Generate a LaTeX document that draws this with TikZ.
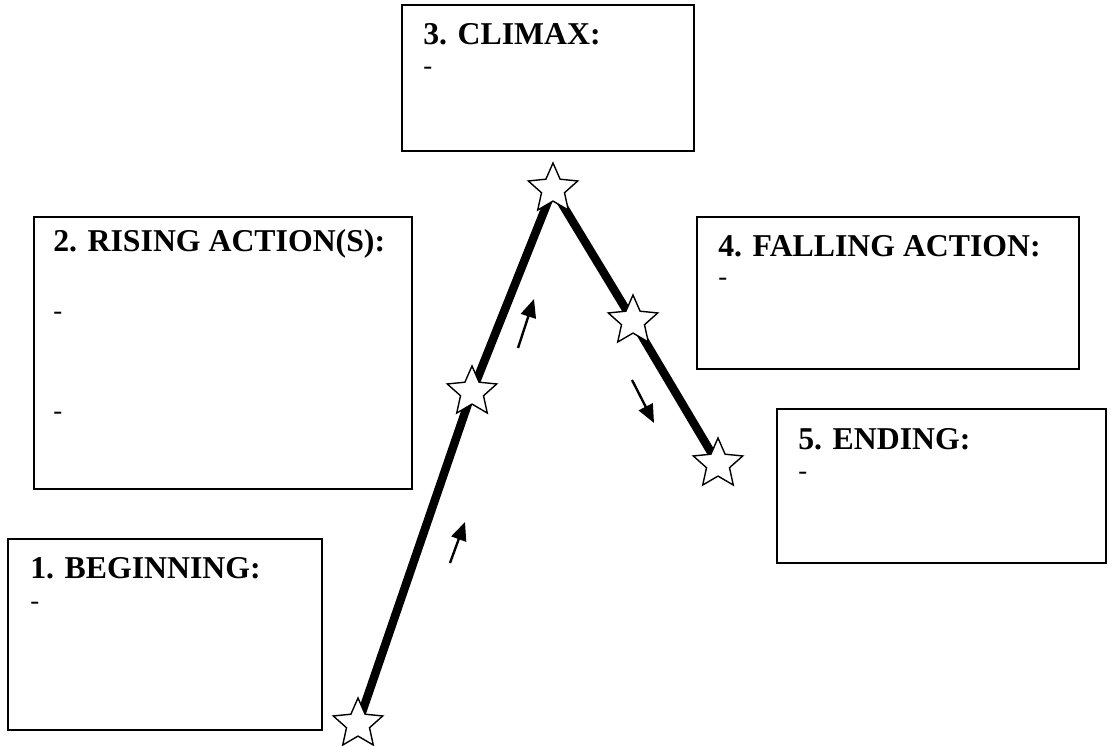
\documentclass[tikz,border=0pt]{standalone}
\usepackage{fontspec}
\setmainfont{Liberation Serif}
\usepackage{tikz}
\usetikzlibrary{shapes.geometric}
\usetikzlibrary{arrows.meta}
\usetikzlibrary{backgrounds}

\begin{document}
\begin{tikzpicture}[mybox/.style={draw, line width=1pt, anchor=north west, inner sep=0pt, outer sep=0pt},
                    mytitle/.style={anchor=base west, inner sep=0pt, font=\fontsize{22.6}{27}\selectfont\bfseries},
                    mydash/.style={anchor=base west, inner sep=0pt, font=\fontsize{19}{21}\selectfont},
                    mystar/.style={star, star points=5, star point ratio=2.15, draw, fill=white, line width=1pt, minimum size=1.3cm, inner sep=0pt},
                    myarrow/.style={-{Triangle[length=13pt,width=11pt]}, line width=1.7pt}]
\useasboundingbox (0,0) rectangle (27.8,18.65);

% The five boxes
\node[mybox,
      minimum width=7.85cm,
      minimum height=4.775cm
     ]
     (beginning) at (0.2,5.175) {};
\node[mybox,
      minimum width=9.45cm,
      minimum height=6.8cm
     ]
     (rising) at (0.85,13.225) {};
\node[mybox,
      minimum width=7.3cm,
      minimum height=3.65cm
     ]
     (climax) at (10.05,18.525) {};
\node[mybox,
      minimum width=9.55cm,
      minimum height=3.8cm
     ]
     (falling) at (17.425,13.225) {};
\node[mybox,
      minimum width=8.225cm,
      minimum height=3.85cm
     ]
     (ending) at (19.425,8.425) {};

% Titles and dashes
\node[mytitle] (beginTitle) at ([shift={(0.55,-1.0)}]beginning.north west) {1. BEGINNING:};
\node[mydash] (beginDash) at ([yshift=-0.76cm]beginTitle.base west) {-};
\node[mytitle] (risingTitle) at ([shift={(0.475,-0.875)}]rising.north west) {2. RISING ACTION(S):};
\node[mydash] (risingDashA) at ([yshift=-1.7cm]risingTitle.base west) {-};
\node[mydash] (risingDashB) at ([yshift=-4.2cm]risingTitle.base west) {-};
\node[mytitle] (climaxTitle) at ([shift={(0.525,-1.0)}]climax.north west) {3. CLIMAX:};
\node[mydash] (climaxDash) at ([yshift=-0.74cm]climaxTitle.base west) {-};
\node[mytitle] (fallingTitle) at ([shift={(0.525,-1.0)}]falling.north west) {4. FALLING ACTION:};
\node[mydash] (fallingDash) at ([yshift=-0.72cm]fallingTitle.base west) {-};
\node[mytitle] (endingTitle) at ([shift={(0.525,-1.025)}]ending.north west) {5. ENDING:};
\node[mydash] (endingDash) at ([yshift=-0.75cm]endingTitle.base west) {-};

% Stars along the plot line
\node[mystar] (beginStar) at (8.95,0.55) {};
\node[mystar] (risingStar) at (11.8,8.85) {};
\node[mystar] (climaxStar) at (13.825,13.925) {};
\node[mystar] (fallingStar) at (15.825,10.625) {};
\node[mystar] (endStar) at (17.95,7.05) {};

\begin{scope}[on background layer]
	\draw[line width=6pt, line join=round] (beginStar.center) -- (risingStar.center) -- (climaxStar.center) -- (fallingStar.center) -- (endStar.center);
\end{scope}

% Small direction arrows
\coordinate (riseTailA) at (11.25,4.575); \coordinate (riseTipA) at (11.625,5.6);
	\draw[myarrow] (riseTailA) -- (riseTipA);
\coordinate (riseTailB) at (12.95,9.95); \coordinate (riseTipB) at (13.35,11.175);
	\draw[myarrow] (riseTailB) -- (riseTipB);
\coordinate (fallTail) at (15.8,9.15); \coordinate (fallTip) at (16.35,8.075);
	\draw[myarrow] (fallTail) -- (fallTip);

\end{tikzpicture}
\end{document}
